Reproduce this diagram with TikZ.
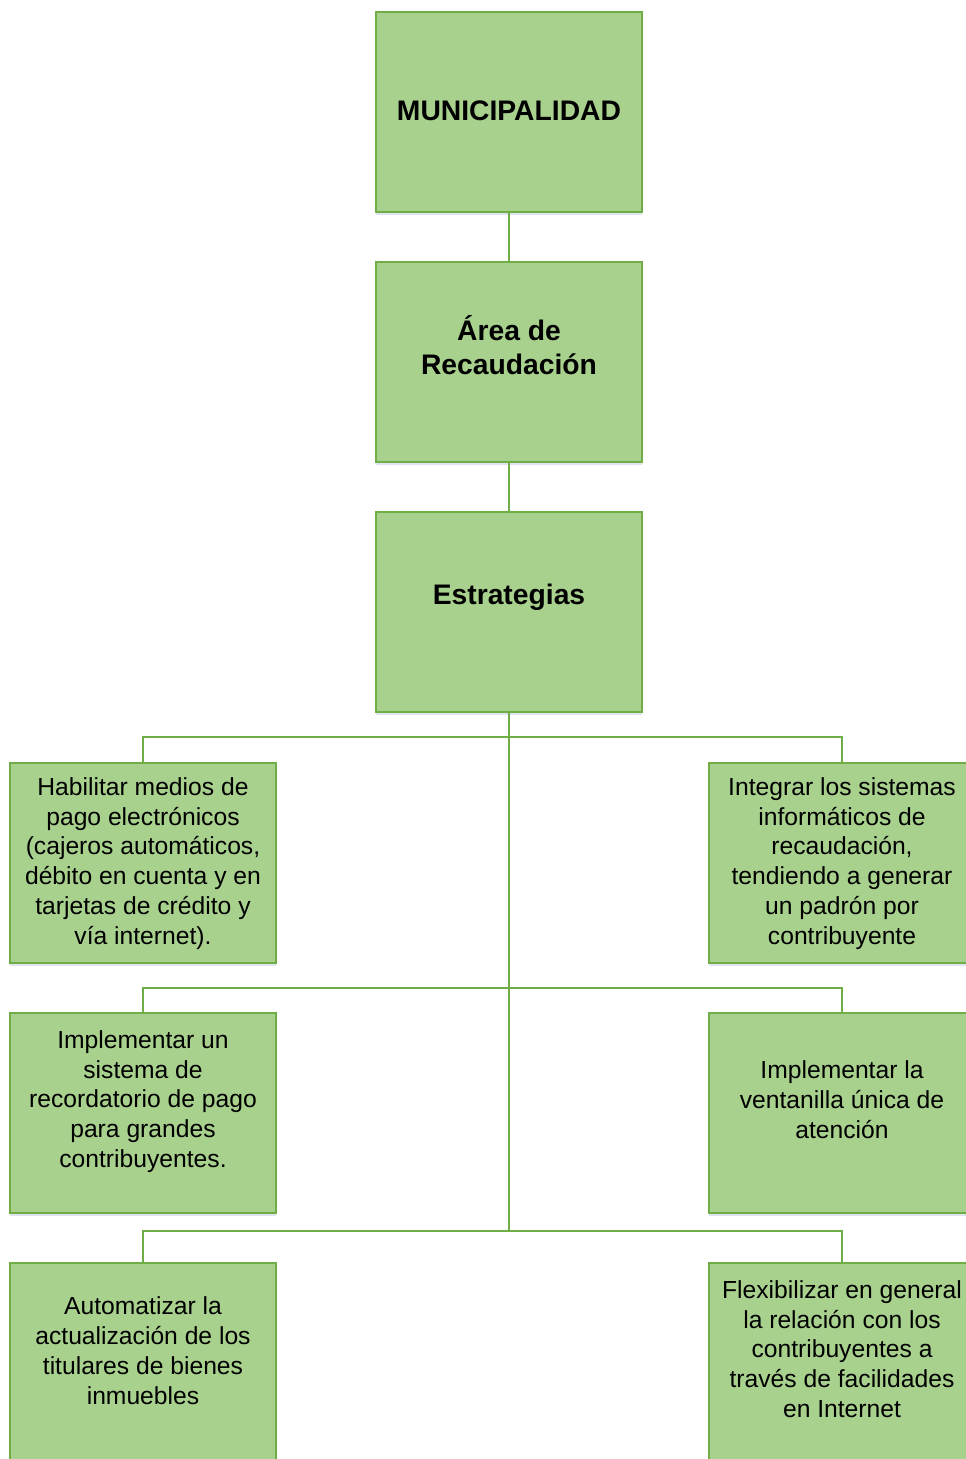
\documentclass[tikz,border=0pt]{standalone}
\usepackage{fontspec}
\setmainfont{Liberation Sans}
\usetikzlibrary{shadows}
\definecolor{boxfill}{HTML}{A9D18E}
\definecolor{boxline}{HTML}{70AD47}
\definecolor{shadowc}{HTML}{D6DFEA}
\tikzset{
  box/.style={draw=boxline, fill=boxfill, line width=1.3pt, rectangle,
    minimum width=199.5pt, minimum height=150pt, inner sep=0pt,
    drop shadow={shadow xshift=0pt, shadow yshift=-2.5pt, fill=shadowc, opacity=0.8}},
  boldtxt/.style={align=center, inner sep=0pt, font=\fontsize{21.2}{25.5}\selectfont\bfseries},
  txt/.style={align=center, inner sep=0pt, font=\fontsize{18.5}{22.35}\selectfont},
  conn/.style={draw=boxline, line width=1.6pt}
}
\begin{document}
\begin{tikzpicture}[x=0.75pt, y=-0.75pt]
\clip (0,0) rectangle (966,1459);
\fill[white] (0,0) rectangle (966,1459);
% boxes
\node[box] (b1) at (509,112) {};
\node[box] (b2) at (509,362) {};
\node[box] (b3) at (509,612) {};
\node[box] (l1) at (143,863) {};
\node[box] (r1) at (842,863) {};
\node[box] (l2) at (143,1113) {};
\node[box] (r2) at (842,1113) {};
\node[box] (l3) at (143,1363) {};
\node[box] (r3) at (842,1363) {};
% texts
\node[boldtxt] (t1) at (509,111) {MUNICIPALIDAD};
\node[boldtxt] (t2) at (509,345.5) {Área de\\Recaudación};
\node[boldtxt] (t3) at (509,597.5) {Estrategias};
\node[txt] (tl1) at (143,863.5) {Habilitar medios de\\pago electrónicos\\(cajeros automáticos,\\débito en cuenta y en\\tarjetas de crédito y\\vía internet).};
\node[txt] (tr1) at (842,863.5) {Integrar los sistemas\\informáticos de\\recaudación,\\tendiendo a generar\\un padrón por\\contribuyente};
\node[txt] (tl2) at (143,1101.5) {Implementar un\\sistema de\\recordatorio de pago\\para grandes\\contribuyentes.};
\node[txt] (tr2) at (842,1099.5) {Implementar la\\ventanilla única de\\atención};
\node[txt] (tl3) at (143,1350.5) {Automatizar la\\actualización de los\\titulares de bienes\\inmuebles};
\node[txt] (tr3) at (842,1349) {Flexibilizar en general\\la relación con los\\contribuyentes a\\través de facilidades\\en Internet};
% connectors
\coordinate (j1) at (509,737);
\coordinate (j2) at (509,988);
\coordinate (j3) at (509,1231);
\draw[conn] (b1.south) -- (b2.north);
\draw[conn] (b2.south) -- (b3.north);
\draw[conn] (b3.south) -- (j3);
\draw[conn] (l1.north) |- (j1) -| (r1.north);
\draw[conn] (l2.north) |- (j2) -| (r2.north);
\draw[conn] (l3.north) |- (j3) -| (r3.north);
\end{tikzpicture}
\end{document}
